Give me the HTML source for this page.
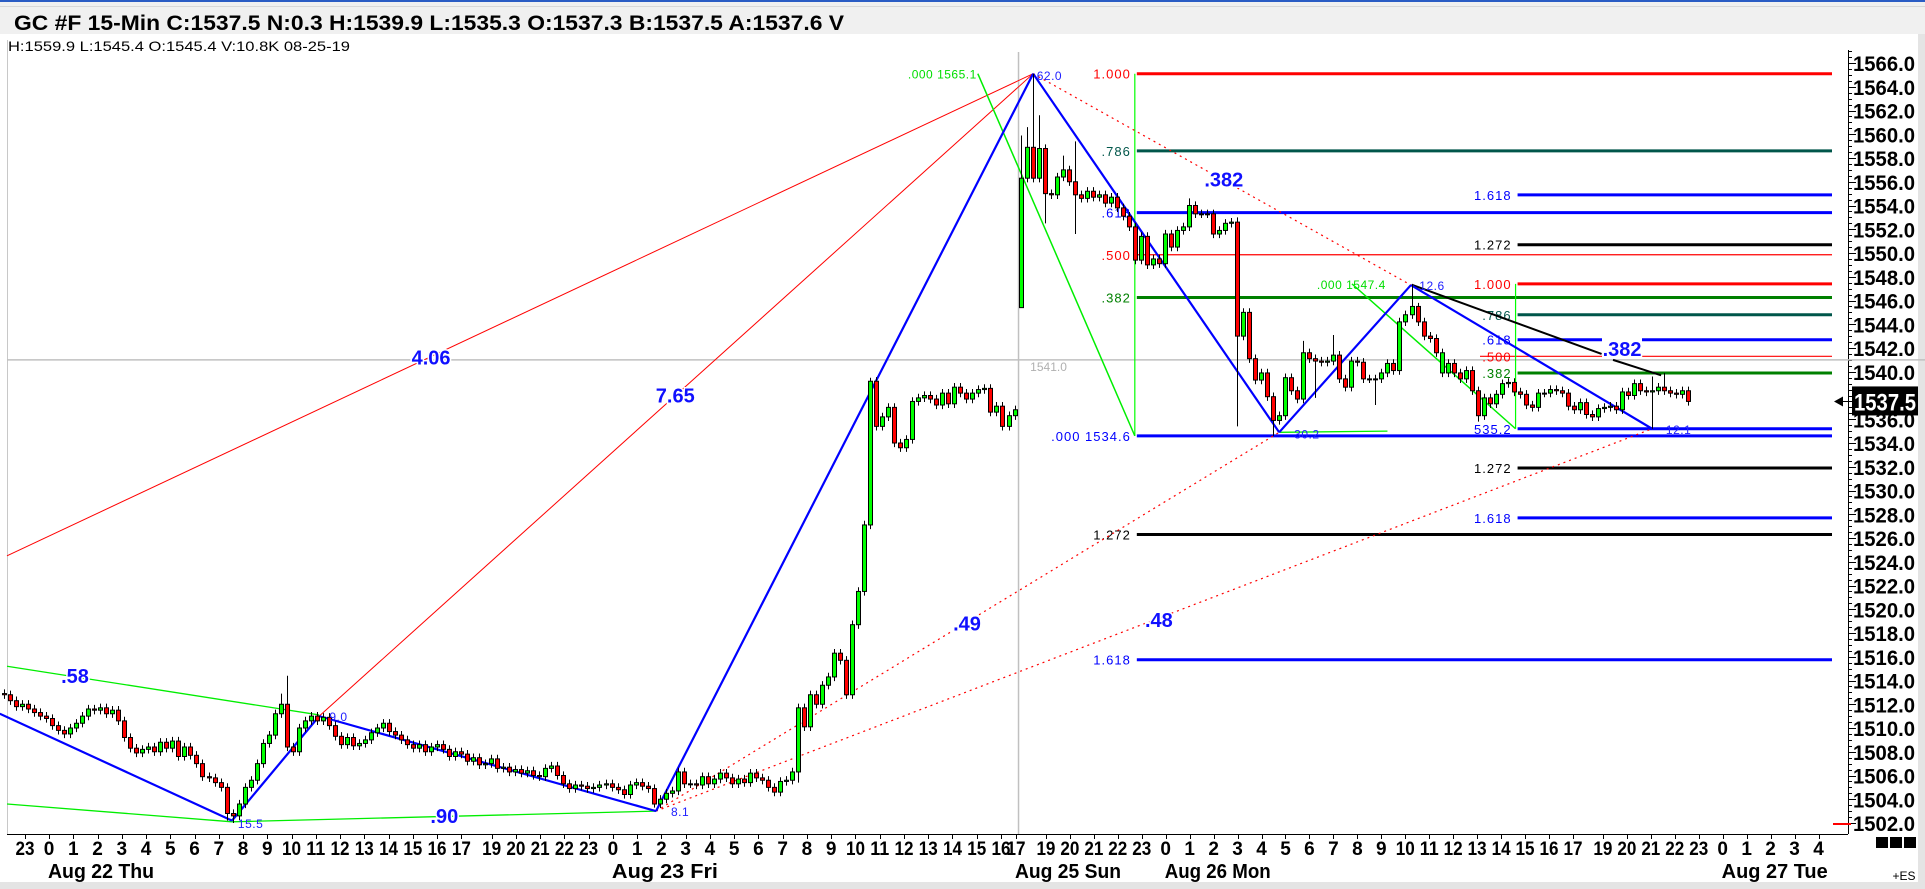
<!DOCTYPE html>
<html><head><meta charset="utf-8"><title>GC #F 15-Min</title>
<style>
html,body{margin:0;padding:0;background:#fff;width:1925px;height:889px;overflow:hidden}
svg{display:block}
text{font-family:"Liberation Sans",sans-serif}
</style></head>
<body>
<svg id="chart" width="1925" height="889" viewBox="0 0 1925 889" xmlns="http://www.w3.org/2000/svg">
<rect x="0" y="0" width="1925" height="889" fill="#ffffff"/>
<rect x="0" y="0" width="1925" height="34" fill="#f0f0f0"/>
<rect x="0" y="0" width="1925" height="2" fill="#2a5cc4"/>
<line x1="0" y1="6.5" x2="1925" y2="6.5" stroke="#d8d8d8"/>
<text x="14" y="30" font-family="Liberation Serif, serif" font-weight="bold" font-size="21" textLength="830" lengthAdjust="spacingAndGlyphs" fill="#000">GC #F 15-Min C:1537.5 N:0.3 H:1539.9 L:1535.3 O:1537.3 B:1537.5 A:1537.6 V</text>
<text x="8" y="51" font-size="14" textLength="342" lengthAdjust="spacingAndGlyphs" fill="#000">H:1559.9  L:1545.4  O:1545.4  V:10.8K  08-25-19</text>
<line x1="7.5" y1="40" x2="7.5" y2="834" stroke="#c8c8c8"/>
<rect x="0" y="882" width="1925" height="7" fill="#e4e4e4"/>
<rect x="1918" y="34" width="7" height="855" fill="#e4e4e4"/>
<g id="gAxis"></g>
<g id="gGrid"></g>
<g id="gFib"></g>
<g id="gLines"></g>
<g id="gCandles"></g>
<g id="gLabels"></g>
</svg>
<script>
// ---- data ----
const closes = [
1512.8,1512.3,1511.8,1512.0,1511.6,1511.3,1511.0,1510.8,1510.2,1509.8,
1509.5,1510.0,1510.4,1511.0,1511.6,1511.5,1511.7,1511.2,1511.5,1510.6,
1509.2,1508.3,1507.9,1508.2,1508.4,1508.0,1508.8,1508.3,1508.9,1507.6,
1508.4,1507.7,1507.0,1505.9,1505.8,1505.4,1505.0,1502.8,1502.6,1503.6,
1505.0,1505.6,1507.0,1508.7,1509.4,1511.2,1512.0,1508.4,1508.0,1510.0,
1510.6,1511.0,1510.6,1510.9,1510.2,1509.3,1508.6,1509.2,1508.5,1508.7,
1509.0,1509.6,1510.0,1510.4,1509.7,1509.4,1509.0,1508.6,1508.3,1508.6,
1508.0,1508.4,1508.6,1508.2,1507.6,1508.0,1507.8,1507.2,1507.5,1506.9,
1507.0,1507.4,1506.6,1506.7,1506.3,1506.5,1506.2,1506.4,1506.0,1505.9,
1506.6,1506.8,1506.0,1505.3,1504.9,1505.2,1505.1,1504.9,1505.0,1505.2,
1505.3,1505.0,1504.8,1504.4,1505.2,1505.4,1505.1,1504.9,1503.6,
1504.0,1504.5,1504.7,1506.3,1505.3,1505.3,1505.2,1505.9,1505.3,1505.7,
1506.2,1505.8,1505.3,1505.7,1505.4,1506.2,1505.8,1505.6,1505.0,1504.6,
1505.5,1505.6,1506.3,1511.7,1510.1,1512.8,1512.0,1513.6,1514.3,1516.3,
1515.7,1512.8,1518.7,1521.5,1527.1,1539.2,1535.4,1536.2,1537.0,1534.0,
1533.6,1534.3,1537.5,1537.8,1538.0,1537.7,1537.2,1538.2,1537.3,1538.7,
1538.2,1537.7,1538.2,1538.5,1538.6,1536.6,1537.1,1535.4,1536.3,1536.8,
1556.3,1558.9,1556.3,1558.8,1555.0,1554.9,1556.4,1557.0,1556.0,1554.9,
1554.6,1555.2,1554.7,1554.9,1554.2,1554.7,1553.8,1553.1,1552.2,1549.4,
1551.4,1549.0,1549.5,1549.1,1551.6,1550.5,1551.9,1552.2,1554.0,1553.3,
1553.3,1553.3,1551.6,1551.9,1552.5,1552.6,1543.0,
1545.0,1541.1,1539.3,1539.9,1537.9,1535.9,1536.3,1539.5,1538.4,1537.7,
1541.6,1541.1,1540.9,1540.8,1540.9,1541.4,1539.4,1538.7,1540.9,1540.8,
1539.4,1539.4,1539.4,1539.9,1540.7,1540.1,1544.2,1544.8,1545.5,1544.2,
1543.0,1542.8,1541.6,1541.6,1540.7,1539.9,1539.4,1540.1,1538.4,1536.3,
1537.8,1537.3,1538.1,1539.0,1539.1,1538.3,1538.1,1537.2,1537.0,1538.2,
1538.2,1538.5,1538.4,1538.2,1537.1,1536.8,1537.4,1536.4,1536.2,1536.9,
1537.0,1537.1,1536.8,1538.3,1538.0,1539.0,1538.4,1538.3,1538.4,1538.7,
1538.4,1538.2,1538.1,1538.4,1537.5
];
const gapOpens = {0:1512.9, 169:1545.4, 239:1539.9, 240:1539.9};
const highOverrides = {46:1512.9,47:1514.4,144:1539.5,169:1559.9,170:1560.6,171:1565.1,172:1561.6,176:1558.2,178:1559.4,197:1554.6,205:1553.0,216:1542.6,221:1543.1,234:1547.4,235:1545.8,274:1539.6,276:1539.9};
const lowOverrides = {37:1502.2,38:1502.0,108:1503.3,132:1505.4,169:1545.4,173:1552.5,178:1551.6,205:1535.4,211:1534.6,218:1537.8,228:1537.2,245:1535.8,274:1535.2};
const priceTicks = [1566,1564,1562,1560,1558,1556,1554,1552,1550,1548,1546,1544,1542,1540,1538,1536,1534,1532,1530,1528,1526,1524,1522,1520,1518,1516,1514,1512,1510,1508,1506,1504,1502];
const hourLabels = ["23","0","1","2","3","4","5","6","7","8","9","10","11","12","13","14","15","16","17","19","20","21","22","23",
"0","1","2","3","4","5","6","7","8","9","10","11","12","13","14","15","16",
"17","19","20","21","22","23",
"0","1","2","3","4","5","6","7","8","9","10","11","12","13","14","15","16","17","19","20","21","22","23",
"0","1","2","3","4"];
const dateLabels = ["Aug 22 Thu","Aug 23 Fri","Aug 25 Sun","Aug 26 Mon","Aug 27 Tue"];
const dateHourIndex = [1,24,41,47,70];
const lastPrice = 1537.5;
// swing pivots [barIndex, price]
const swingPts = [[-0.7,1511.2],[37.9,1502.2],[52.4,1511.0],[108.4,1503.0],[171.1,1565.1],[212,1534.9],[233.9,1547.3],[274,1535.2]];
const fibSet1 = {start:188, levels:[1565.1,1558.6,1553.4,1549.85,1546.25,1534.6,1526.3,1515.75], names:["1.000",".786",".618",".500",".382",".000 1534.6","1.272","1.618"]};
const fibSet2 = {start:251.3, levels:[1554.9,1550.7,1547.4,1544.8,1542.7,1541.3,1539.9,1535.2,1531.9,1527.7], names:["1.618","1.272","1.000",".786",".618",".500",".382","535.2","1.272","1.618"]};
const ratioTexts = ["4.06","7.65",".58",".90",".49",".48",".382",".382"];
const ratioPos = [[71.0,1541.2],[111.6,1538.0],[11.8,1514.4],[73.2,1502.6],[160.1,1518.8],[192,1519.1],[202.8,1556.2],[269,1541.9]];

// ---- axis functions ----
const NS = "http://www.w3.org/2000/svg";
function xOf(i){ return 4 + 6.015*i; }
function yOf(p){ return 63 + (1566 - p)*11.875; }
const tAnchors = [[-1,25],[0,49],[39.25,1001],[40.25,1016],[73.75,1818.5]];
function xOfT(t){
  for (let k=0;k<tAnchors.length-1;k++){
    const a=tAnchors[k], b=tAnchors[k+1];
    if (t<=b[0]) return a[1]+(t-a[0])*(b[1]-a[1])/(b[0]-a[0]);
  }
  return tAnchors[tAnchors.length-1][1];
}
function mk(tag, attrs, parent){
  const el=document.createElementNS(NS,tag);
  for (const k in attrs) el.setAttribute(k, attrs[k]);
  parent.appendChild(el);
  return el;
}
const gAxis=document.getElementById('gAxis'), gGrid=document.getElementById('gGrid'),
      gFib=document.getElementById('gFib'), gLines=document.getElementById('gLines'),
      gCandles=document.getElementById('gCandles'), gLabels=document.getElementById('gLabels');

// ---- y axis ----
const yAxisLine = mk('line',{x1:1848.5,y1:50,x2:1848.5,y2:834,stroke:'#000','stroke-width':1},gAxis);


for (let p=1502; p<=1567; p+=0.5){
  const y=Math.round(yOf(p))+0.5;
  const major = (Math.abs(p%2)<0.01);
  mk('line',{x1:1848,y1:y,x2:major?1856:1852,y2:y,stroke:'#000','stroke-width':1},gAxis);
}
priceTicks.forEach(p=>{
  const t=mk('text',{x:1884,y:yOf(p)+8,'text-anchor':'middle','font-size':21,'font-weight':'bold',textLength:62,lengthAdjust:'spacingAndGlyphs',fill:'#000'},gAxis);
  t.textContent=p.toFixed(1);
  
  
});
// last price box
const lpY=yOf(lastPrice);
const lpBox=mk('rect',{x:1852,y:lpY-15,width:66,height:29,fill:'#000'},gAxis);


const lpT=mk('text',{x:1885,y:lpY+9,'text-anchor':'middle','font-size':24,'font-weight':'bold',textLength:62,lengthAdjust:'spacingAndGlyphs',fill:'#fff'},gAxis);
lpT.textContent=lastPrice.toFixed(1);


const arrow=mk('path',{d:`M1834 ${lpY} L1843 ${lpY-5} L1843 ${lpY+5} Z M1840 ${lpY-0.5} h9 v1 h-9 Z`,fill:'#000'},gAxis);


mk('line',{x1:1833,y1:yOf(1502)+1,x2:1851,y2:yOf(1502)+1,stroke:'#ff0000','stroke-width':2},gAxis);
[1876,1890,1904].forEach(x=>{
  const r=mk('rect',{x:x,y:837,width:12,height:11,fill:'#000'},gAxis);
  
  
});
const es=mk('text',{x:1904,y:880,'text-anchor':'middle','font-size':12,fill:'#000'},gAxis);
es.textContent='+ES';



// ---- x axis ----
const xAxisLine=mk('line',{x1:7,y1:834.5,x2:1848,y2:834.5,stroke:'#000','stroke-width':1},gAxis);


let tCur=-1; const hourT=[];
hourLabels.forEach((h,k)=>{
  if (k>0){
    const prev=hourLabels[k-1];
    tCur += (prev==="17" && h==="19") ? 1.25 : 1;
  }
  hourT.push(tCur);
});
hourLabels.forEach((h,k)=>{
  const x=xOfT(hourT[k]);
  mk('line',{x1:Math.round(x)+0.5,y1:834,x2:Math.round(x)+0.5,y2:839,stroke:'#000'},gAxis);
  const attrs={x:x,y:855,'text-anchor':'middle','font-size':19,'font-weight':'bold',fill:'#000'};
  if (h.length===2){ attrs.textLength=19; attrs.lengthAdjust='spacingAndGlyphs'; }
  const t=mk('text',attrs,gAxis);
  t.textContent=h;
  
  
});
dateLabels.forEach((d,k)=>{
  const x=xOfT(hourT[dateHourIndex[k]]);
  const t=mk('text',{x:x-1,y:878,'font-size':20,'font-weight':'bold',textLength:106,lengthAdjust:'spacingAndGlyphs',fill:'#000'},gAxis);
  t.textContent=d;
  
  
});

// ---- crosshair ----
const chY=yOf(1541.0);
const chH=mk('line',{x1:7,y1:chY,x2:1925,y2:chY,stroke:'#c0c0c0','stroke-width':1.5},gGrid);


const sessX=(xOf(168)+xOf(169))/2+1;
const chV=mk('line',{x1:sessX,y1:52,x2:sessX,y2:834,stroke:'#c0c0c0','stroke-width':1.5},gGrid);


const chT=mk('text',{x:sessX+30,y:chY+11,'text-anchor':'middle','font-size':12,fill:'#b0b0b0'},gGrid);
chT.textContent='1541.0';



// ---- fib levels ----
const fibColor={"1.000":"#ff0000",".786":"#00564a",".618":"#0000ff",".500":"#ff0000",".382":"#008000","1.272":"#000000","1.618":"#0000ff"};
function fibStyle(name){
  if (name.startsWith(".000")||name.startsWith("535")) return ["#0000ff",3];
  return [fibColor[name], name===".500"?1.2:3];
}
function drawFib(set, tag, gaps){
  const xs=xOf(set.start);
  set.levels.forEach((lv,k)=>{
    const nm=set.names[k]; const st=fibStyle(nm); const y=yOf(lv);
    const segs = (gaps && gaps[nm]) ? gaps[nm] : [[xs+2,1832]];
    segs.forEach(s=>{
      const l=mk('line',{x1:s[0],y1:y,x2:s[1],y2:y,stroke:st[0],'stroke-width':st[1]},gFib);
      
      
    });
    const t=mk('text',{x:xs-4,y:y+5,'text-anchor':'end','font-size':13,'letter-spacing':'1',fill:st[0]},gFib);
    t.textContent=nm;
    
    
  });
}
drawFib(fibSet1,'fib-set1',null);
const g2x=xOf(fibSet2.start);
drawFib(fibSet2,'fib-set2',{".618":[[g2x+2,1602],[1642,1832]],".500":[[1480,1602],[1642,1832]]});
// fib vertical anchors
const v1=mk('line',{x1:xOf(fibSet1.start),y1:yOf(1565.1),x2:xOf(fibSet1.start),y2:yOf(1534.6),stroke:'#00ff00','stroke-width':1.2},gFib);


const v2=mk('line',{x1:g2x,y1:yOf(1547.4),x2:g2x,y2:yOf(1535.2),stroke:'#00ff00','stroke-width':1.2},gFib);



// ---- trend / swing lines ----
function seg(a,b,color,w,dash,name){
  const attrs={x1:xOf(a[0]),y1:yOf(a[1]),x2:xOf(b[0]),y2:yOf(b[1]),stroke:color,'stroke-width':w};
  if (dash) attrs['stroke-dasharray']=dash;
  const l=mk('line',attrs,gLines);
  
  
  return l;
}
const P=swingPts;
seg([0.5,1524.5],P[4],'#ff0000',1,null,'red-trendline-1');
seg(P[2],P[4],'#ff0000',1,null,'red-trendline-2');
seg(P[4],P[6],'#ff0000',1.2,'2,4','red-dotted-line-1');
seg(P[3],P[5],'#ff0000',1.2,'2,4','red-dotted-line-2');
seg(P[3],P[7],'#ff0000',1.2,'2,4','red-dotted-line-3');
seg([0.5,1515.2],[52.4,1511.1],'#00ee00',1.3,null,'green-channel-upper');
seg([0.5,1503.6],[37.9,1502.1],'#00ee00',1.3,null,'green-channel-lower-a');
seg([37.9,1502.1],[108.4,1503.0],'#00ee00',1.3,null,'green-channel-lower-b');
seg([161.9,1565.1],[188,1534.6],'#00ee00',1.5,null,'green-fib-leg-1');
seg([224.1,1547.4],[251.3,1535.2],'#00ee00',1.5,null,'green-fib-leg-2');
seg([212,1534.9],[230,1535.0],'#00ee00',1.3,null,'green-base-line');
seg([234.2,1547.3],[265.6,1541.5],'#000000',2,null,'black-trendline-a');
seg([267.5,1541.0],[275.5,1539.7],'#000000',2,null,'black-trendline-b');
for (let k=0;k<P.length-1;k++) seg(P[k],P[k+1],'#0000ff',2.2,null,'swing-leg-'+(k+1));

// ---- candles ----
closes.forEach((c,i)=>{
  const o = (gapOpens[i]!==undefined) ? gapOpens[i] : closes[i-1];
  const h = (highOverrides[i]!==undefined) ? highOverrides[i] : Math.max(o,c)+0.35;
  const l = (lowOverrides[i]!==undefined) ? lowOverrides[i] : Math.min(o,c)-0.35;
  const x = Math.round(xOf(i));
  const g = mk('g',{},gCandles);
  
  
  mk('line',{x1:x+0.5,y1:yOf(h),x2:x+0.5,y2:yOf(l),stroke:'#000','stroke-width':1},g);
  const top=yOf(Math.max(o,c)), bot=yOf(Math.min(o,c));
  const hgt=Math.max(1,bot-top);
  mk('rect',{x:x-1.5,y:top,width:4,height:hgt,fill:(c>=o)?'#00ff00':'#ff0000',stroke:'#000','stroke-width':1},g);
});

// ---- labels ----
ratioTexts.forEach((s,k)=>{
  const t=mk('text',{x:xOf(ratioPos[k][0]),y:yOf(ratioPos[k][1])+7,'text-anchor':'middle','font-size':20,'font-weight':'bold',fill:'#1010ff',stroke:'#fff','stroke-width':3,'paint-order':'stroke'},gLabels);
  t.textContent=s;
  
  
});
const smallLabels = [["15.5",41,1502.0,'#2020ff'],["9.0",55.6,1511.0,'#2020ff'],["8.1",112.4,1503.0,'#2020ff'],["62.0",173.8,1565.0,'#2020ff'],
 ["30.2",216.6,1534.8,'#2020ff'],["12.6",237.4,1547.3,'#2020ff'],["12.1",278.4,1535.2,'#2020ff'],
 [".000 1565.1",156,1565.1,'#00dd00'],[".000 1547.4",224,1547.4,'#00dd00']];
smallLabels.forEach(s=>{
  const t=mk('text',{x:xOf(s[1]),y:yOf(s[2])+5,'text-anchor':'middle','font-size':12,'letter-spacing':'0.5',fill:s[3]},gLabels);
  t.textContent=s[0];
  
  
});
</script>
</body></html>
